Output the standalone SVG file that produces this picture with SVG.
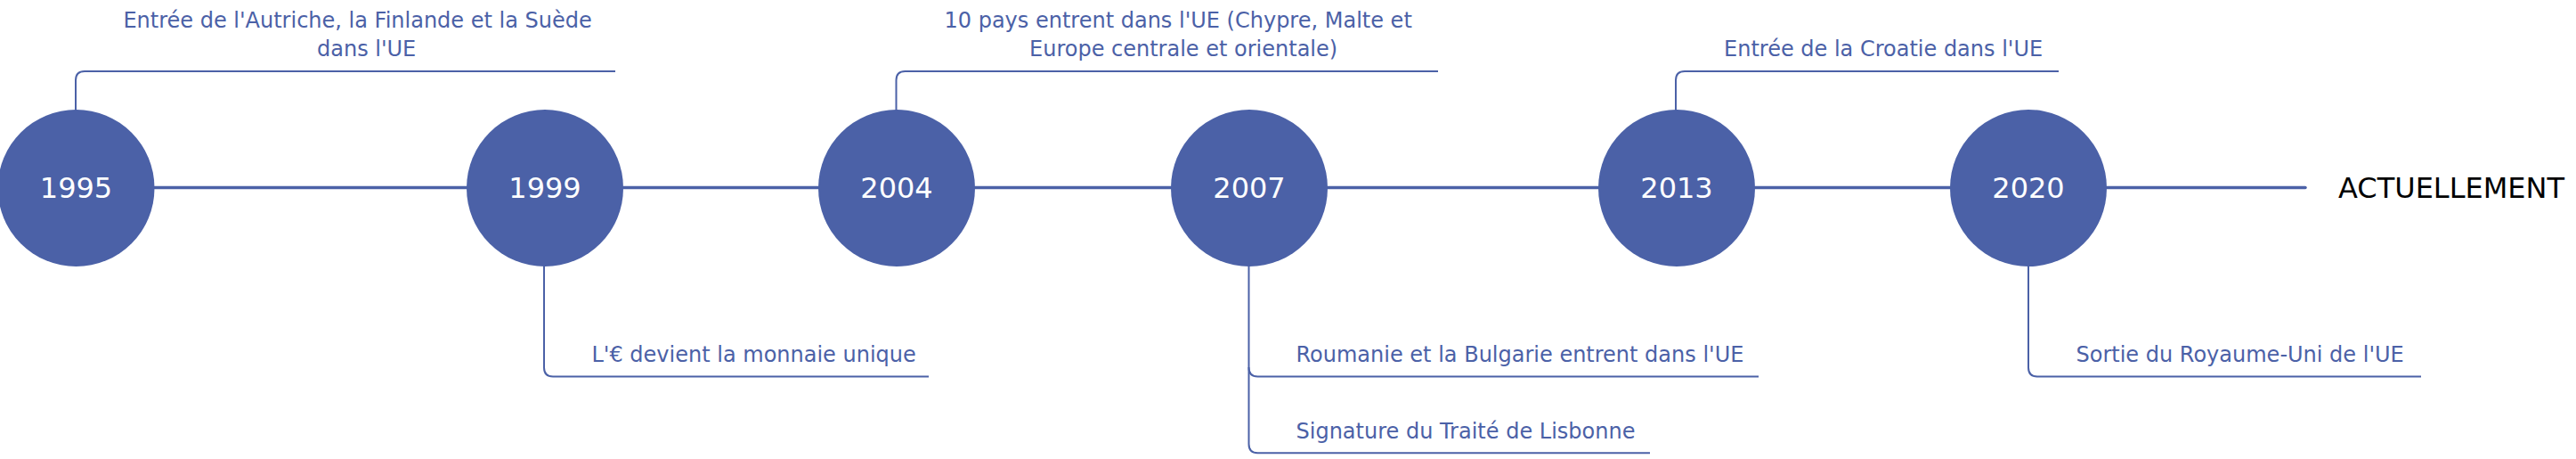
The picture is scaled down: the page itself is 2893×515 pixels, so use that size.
<svg xmlns="http://www.w3.org/2000/svg" width="2893" height="515" viewBox="0 0 2893 515">
<style>
.conn{fill:none;stroke:#4b61a7;stroke-width:2}
.main{fill:none;stroke:#4b61a7;stroke-width:3.5;stroke-linecap:round}
.dot{fill:#4b61a7}
.yr{font-family:"DejaVu Sans",Verdana,sans-serif;font-size:32px;fill:#ffffff;text-anchor:middle}
.lbl{font-family:"DejaVu Sans",Verdana,sans-serif;font-size:24px;fill:#4b61a7}
.now{font-family:"DejaVu Sans",Verdana,sans-serif;font-size:32px;fill:#000000}
</style>
<rect width="2893" height="515" fill="#ffffff"/>
<g id="connectors">
<path class="main" d="M173 210.5 H2589"/>
<path class="conn" d="M85 124 V90 Q85 80 95 80 H691"/>
<path class="conn" d="M611 298 V412.5 Q611 422.5 621 422.5 H1043"/>
<path class="conn" d="M1006.5 124 V90 Q1006.5 80 1016.5 80 H1615"/>
<path class="conn" d="M1402.5 298 V412.5 Q1402.5 422.5 1412.5 422.5 H1975"/>
<path class="conn" d="M1402.5 412 V498.3 Q1402.5 508.3 1412.5 508.3 H1853"/>
<path class="conn" d="M1882 124 V90 Q1882 80 1892 80 H2312"/>
<path class="conn" d="M2278 298 V412.5 Q2278 422.5 2288 422.5 H2719"/>
</g>
<g id="node-1995">
<circle class="dot" cx="85.5" cy="211" r="88"/>
<text class="yr" x="85.5" y="222">1995</text>
</g>
<g id="node-1999">
<circle class="dot" cx="612" cy="211" r="88"/>
<text class="yr" x="612" y="222">1999</text>
</g>
<g id="node-2004">
<circle class="dot" cx="1007" cy="211" r="88"/>
<text class="yr" x="1007" y="222">2004</text>
</g>
<g id="node-2007">
<circle class="dot" cx="1403" cy="211" r="88"/>
<text class="yr" x="1403" y="222">2007</text>
</g>
<g id="node-2013">
<circle class="dot" cx="1883" cy="211" r="88"/>
<text class="yr" x="1883" y="222">2013</text>
</g>
<g id="node-2020">
<circle class="dot" cx="2278" cy="211" r="88"/>
<text class="yr" x="2278" y="222">2020</text>
</g>
<g id="node-now">
<text class="now" x="2626" y="222">ACTUELLEMENT</text>
</g>
<g id="label-1995">
<text class="lbl" x="138.4" y="31">Entrée de l'Autriche, la Finlande et la Suède</text>
<text class="lbl" x="356" y="63">dans l'UE</text>
</g>
<g id="label-1999">
<text class="lbl" x="664.5" y="406">L'€ devient la monnaie unique</text>
</g>
<g id="label-2004">
<text class="lbl" x="1060.5" y="31">10 pays entrent dans l'UE (Chypre, Malte et</text>
<text class="lbl" x="1156" y="63">Europe centrale et orientale)</text>
</g>
<g id="label-2007a">
<text class="lbl" x="1455.5" y="406">Roumanie et la Bulgarie entrent dans l'UE</text>
</g>
<g id="label-2007b">
<text class="lbl" x="1455.5" y="491.5">Signature du Traité de Lisbonne</text>
</g>
<g id="label-2013">
<text class="lbl" x="1936" y="63">Entrée de la Croatie dans l'UE</text>
</g>
<g id="label-2020">
<text class="lbl" x="2331.5" y="406">Sortie du Royaume-Uni de l'UE</text>
</g>
</svg>
